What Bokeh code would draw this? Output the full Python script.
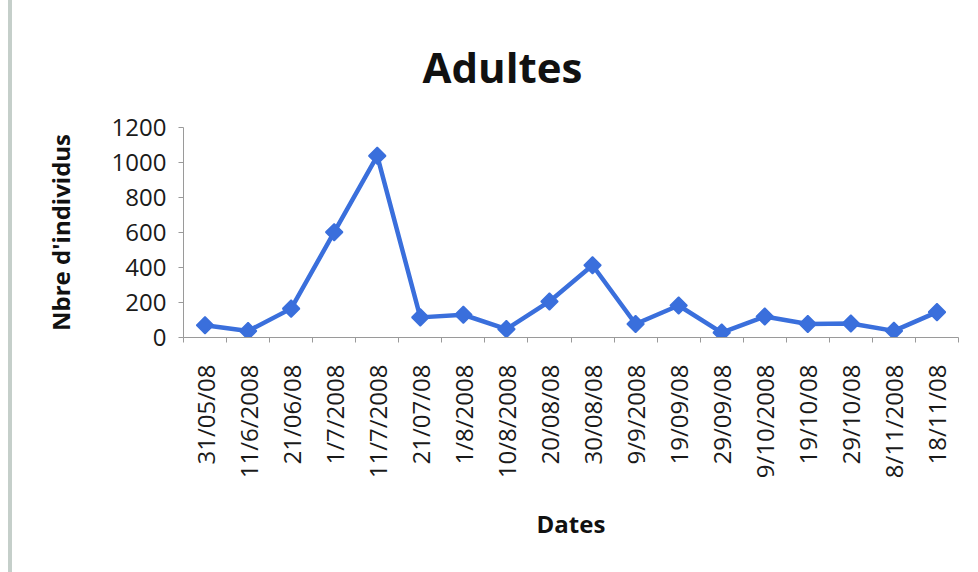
import math
from bokeh.plotting import figure
from bokeh.models import FixedTicker, Range1d, Title
from bokeh.embed import file_html
from bokeh.resources import INLINE

dates = ["31/05/08", "11/6/2008", "21/06/08", "1/7/2008", "11/7/2008", "21/07/08",
         "1/8/2008", "10/8/2008", "20/08/08", "30/08/08", "9/9/2008", "19/09/08",
         "29/09/08", "9/10/2008", "19/10/08", "29/10/08", "8/11/2008", "18/11/08"]
adultes = [70, 37, 165, 602, 1038, 115, 130, 48, 206, 413, 77, 183,
           28, 120, 77, 80, 38, 145]
y_ticks = [0, 200, 400, 600, 800, 1000, 1200]

positions = list(range(1, len(dates) + 1))
boundaries = [i + 0.5 for i in range(0, len(dates) + 1)]

FONT = "Open Sans"
BLUE = "#3a6fdc"
AXIS = "#9a9a9a"

p = figure(width=966, height=572, output_backend="svg", toolbar_location=None,
           x_range=Range1d(0.5, len(dates) + 0.5), y_range=Range1d(0, 1200),
           min_border_left=171, min_border_right=20, min_border_top=127,
           min_border_bottom=235)
p.styles = {"margin-left": "8px", "border-left": "4px solid #c5cfca"}
p.title = None
p.add_layout(Title(text="Adultes", align="left", offset=239, standoff=66,
                   text_font=FONT, text_font_size="42px", text_font_style="bold",
                   text_color="#111111", vertical_align="bottom"), "above")

p.outline_line_color = None
p.xgrid.grid_line_color = None
p.ygrid.grid_line_color = None
p.background_fill_color = "white"
p.border_fill_color = "white"

p.line(positions, adultes, line_color=BLUE, line_width=4.5)
p.scatter(positions, adultes, marker="square", angle=0.785398, size=12,
          fill_color=BLUE, line_color=BLUE, line_width=1.5)

xa = p.xaxis[0]
xa.ticker = FixedTicker(ticks=positions, minor_ticks=boundaries)
xa.major_label_overrides = {pos: d for pos, d in zip(positions, dates)}
xa.major_label_orientation = math.pi / 2
xa.major_tick_out = 0
xa.major_tick_in = 0
xa.minor_tick_out = 5
xa.minor_tick_in = 0
xa.minor_tick_line_color = AXIS
xa.axis_line_color = AXIS
xa.major_label_standoff = 22
xa.major_label_text_font = FONT
xa.major_label_text_font_size = "24px"
xa.major_label_text_color = "#1a1a1a"
xa.axis_label = "Dates"
xa.axis_label_text_font = FONT
xa.axis_label_text_font_size = "24px"
xa.axis_label_text_font_style = "bold"
xa.axis_label_text_color = "#111111"
xa.axis_label_standoff = 26

ya = p.yaxis[0]
ya.ticker = FixedTicker(ticks=y_ticks)
ya.minor_tick_line_color = None
ya.major_tick_out = 5
ya.major_tick_in = 0
ya.major_tick_line_color = AXIS
ya.axis_line_color = AXIS
ya.major_label_standoff = 12
ya.major_label_text_font = FONT
ya.major_label_text_font_size = "24px"
ya.major_label_text_color = "#1a1a1a"
ya.axis_label = "Nbre d'individus"
ya.axis_label_text_font = FONT
ya.axis_label_text_font_size = "24px"
ya.axis_label_text_font_style = "bold"
ya.axis_label_text_color = "#111111"
ya.axis_label_standoff = 32

open("out.html", "w").write(file_html(p, INLINE))
